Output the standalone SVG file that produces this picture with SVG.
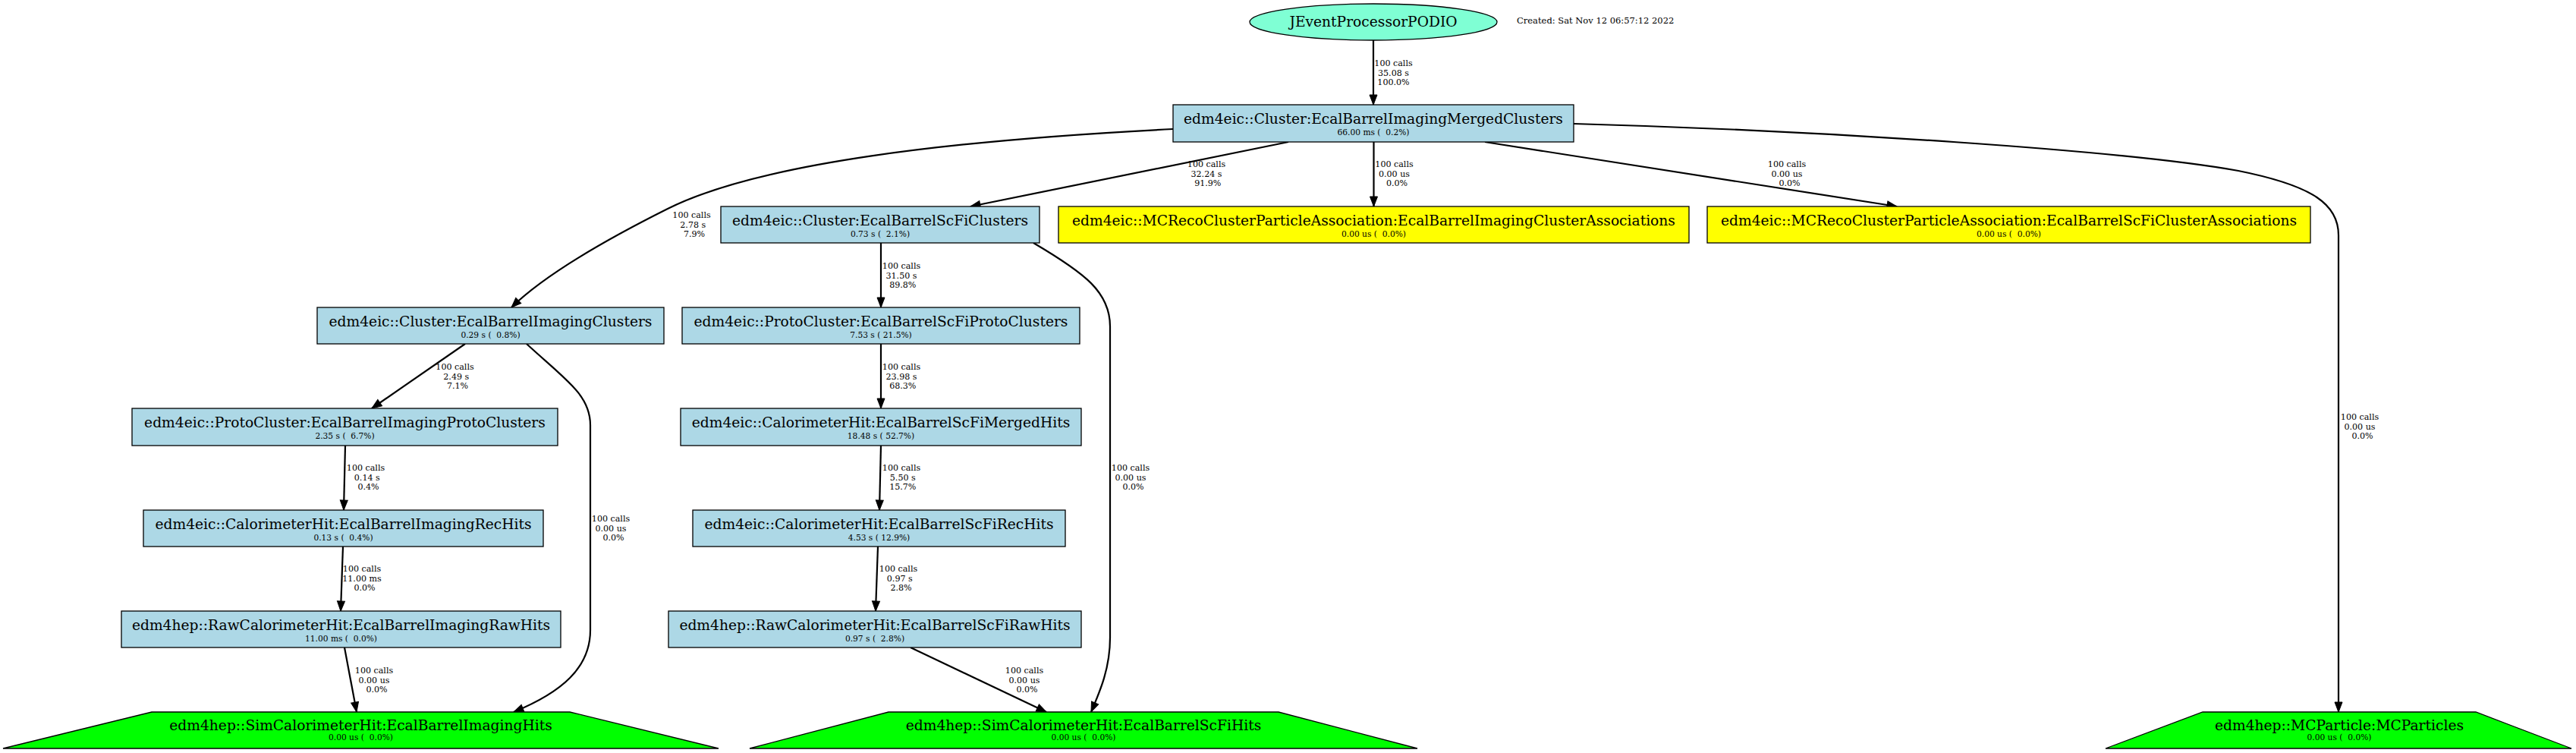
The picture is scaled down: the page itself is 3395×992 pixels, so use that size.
<svg xmlns="http://www.w3.org/2000/svg" width="3395" height="992" viewBox="0 0 3395 992">
<style>
.bg{fill:#ffffff}
.blue{fill:#add8e6;stroke:#000;stroke-width:1.3}
.yel{fill:#ffff00;stroke:#000;stroke-width:1.3}
.grn{fill:#00ff00;stroke:#000;stroke-width:1.3}
.ell{fill:#7fffd4;stroke:#000;stroke-width:1.3}
.t{font-family:"DejaVu Serif","Liberation Serif",serif;font-size:18.67px;text-anchor:middle;fill:#000}
.s{font-family:"DejaVu Serif","Liberation Serif",serif;font-size:10.67px;text-anchor:middle;fill:#000;white-space:pre}
.l{font-family:"DejaVu Serif","Liberation Serif",serif;font-size:11.1px;text-anchor:middle;fill:#000;white-space:pre}
.c{font-family:"DejaVu Serif","Liberation Serif",serif;font-size:11.5px;fill:#000}
.e{fill:none;stroke:#000;stroke-width:2.2;marker-end:url(#ah)}
</style>
<defs>
<marker id="ah" markerUnits="userSpaceOnUse" markerWidth="16" markerHeight="12" refX="13" refY="5" orient="auto" overflow="visible">
<path d="M0,0 L13,5 L0,10 z" fill="#000" stroke="#000" stroke-width="1"/>
</marker>
</defs>
<rect class="bg" x="0" y="0" width="3395" height="992"/>

<g id="connectors">
<path class="e" d="M1810,53 L1810,138"/>
<path class="e" d="M1546,170 C1250,185 1000,215 880,275 C800,315 720,360 674,405"/>
<path class="e" d="M1698,187 L1279,272"/>
<path class="e" d="M1810.5,187 L1810.5,272"/>
<path class="e" d="M1957,187 L2500,272"/>
<path class="e" d="M2074,163 C2400,172 2800,198 2950,225 C3050,245 3082,270 3082,310 L3082,938"/>
<path class="e" d="M1161,320 L1161,405"/>
<path class="e" d="M1362,320 C1430,360 1463,385 1463,430 L1463,840 C1463,880 1450,910 1438,938"/>
<path class="e" d="M1161,453 L1161,538"/>
<path class="e" d="M1161,587 L1159,672"/>
<path class="e" d="M1157,720 L1154,805"/>
<path class="e" d="M1200,853 L1379,938"/>
<path class="e" d="M613,453 L490,538"/>
<path class="e" d="M455,587 L453,672"/>
<path class="e" d="M452,720 L449,805"/>
<path class="e" d="M454,853 L470,938"/>
<path class="e" d="M694,453 C745,500 778,520 778,560 L778,830 C778,880 740,912 677,938"/>

<text class="l" x="1836.5" y="87">100 calls</text>
<text class="l" x="1836.5" y="99.5">35.08 s</text>
<text class="l" x="1836.5" y="112">100.0%</text>

<text class="l" x="911.5" y="287">100 calls</text>
<text class="l" x="911.5" y="299.5"> 2.78 s</text>
<text class="l" x="911.5" y="312">  7.9%</text>

<text class="l" x="1590" y="220">100 calls</text>
<text class="l" x="1590" y="232.5">32.24 s</text>
<text class="l" x="1590" y="245"> 91.9%</text>

<text class="l" x="1837.5" y="220">100 calls</text>
<text class="l" x="1837.5" y="232.5">0.00 us</text>
<text class="l" x="1837.5" y="245">  0.0%</text>

<text class="l" x="2355" y="220">100 calls</text>
<text class="l" x="2355" y="232.5">0.00 us</text>
<text class="l" x="2355" y="245">  0.0%</text>

<text class="l" x="3110" y="553">100 calls</text>
<text class="l" x="3110" y="565.5">0.00 us</text>
<text class="l" x="3110" y="578">  0.0%</text>

<text class="l" x="1188" y="354">100 calls</text>
<text class="l" x="1188" y="366.5">31.50 s</text>
<text class="l" x="1188" y="379"> 89.8%</text>

<text class="l" x="1490" y="620">100 calls</text>
<text class="l" x="1490" y="632.5">0.00 us</text>
<text class="l" x="1490" y="645">  0.0%</text>

<text class="l" x="1188" y="487">100 calls</text>
<text class="l" x="1188" y="499.5">23.98 s</text>
<text class="l" x="1188" y="512"> 68.3%</text>

<text class="l" x="1188" y="620">100 calls</text>
<text class="l" x="1188" y="632.5"> 5.50 s</text>
<text class="l" x="1188" y="645"> 15.7%</text>

<text class="l" x="1184" y="753">100 calls</text>
<text class="l" x="1184" y="765.5"> 0.97 s</text>
<text class="l" x="1184" y="778">  2.8%</text>

<text class="l" x="1350" y="887">100 calls</text>
<text class="l" x="1350" y="899.5">0.00 us</text>
<text class="l" x="1350" y="912">  0.0%</text>

<text class="l" x="599.5" y="487">100 calls</text>
<text class="l" x="599.5" y="499.5"> 2.49 s</text>
<text class="l" x="599.5" y="512">  7.1%</text>

<text class="l" x="482" y="620">100 calls</text>
<text class="l" x="482" y="632.5"> 0.14 s</text>
<text class="l" x="482" y="645">  0.4%</text>

<text class="l" x="477" y="753">100 calls</text>
<text class="l" x="477" y="765.5">11.00 ms</text>
<text class="l" x="477" y="778">  0.0%</text>

<text class="l" x="493" y="887">100 calls</text>
<text class="l" x="493" y="899.5">0.00 us</text>
<text class="l" x="493" y="912">  0.0%</text>

<text class="l" x="805" y="687">100 calls</text>
<text class="l" x="805" y="699.5">0.00 us</text>
<text class="l" x="805" y="712">  0.0%</text>
</g>

<g id="n_jevent">
<ellipse class="ell" cx="1810" cy="29" rx="163" ry="24"/>
<text class="t" x="1810" y="35">JEventProcessorPODIO</text>
</g>
<g id="created">
<text class="c" x="1999" y="31">Created: Sat Nov 12 06:57:12 2022</text>
</g>

<g id="n_merged">
<rect class="blue" x="1546" y="138" width="528" height="49"/>
<text class="t" x="1810" y="163">edm4eic::Cluster:EcalBarrelImagingMergedClusters</text>
<text class="s" x="1810" y="178">66.00 ms (  0.2%)</text>
</g>

<g id="n_scficlusters">
<rect class="blue" x="950" y="272" width="420" height="48"/>
<text class="t" x="1160" y="297">edm4eic::Cluster:EcalBarrelScFiClusters</text>
<text class="s" x="1160" y="312">0.73 s (  2.1%)</text>
</g>

<g id="n_assoc_imaging">
<rect class="yel" x="1395" y="272" width="831" height="48"/>
<text class="t" x="1810.5" y="297">edm4eic::MCRecoClusterParticleAssociation:EcalBarrelImagingClusterAssociations</text>
<text class="s" x="1810.5" y="312">0.00 us (  0.0%)</text>
</g>

<g id="n_assoc_scfi">
<rect class="yel" x="2250" y="272" width="795" height="48"/>
<text class="t" x="2647.5" y="297">edm4eic::MCRecoClusterParticleAssociation:EcalBarrelScFiClusterAssociations</text>
<text class="s" x="2647.5" y="312">0.00 us (  0.0%)</text>
</g>

<g id="n_imagingclusters">
<rect class="blue" x="418" y="405" width="457" height="48"/>
<text class="t" x="646.5" y="430">edm4eic::Cluster:EcalBarrelImagingClusters</text>
<text class="s" x="646.5" y="445">0.29 s (  0.8%)</text>
</g>

<g id="n_scfiproto">
<rect class="blue" x="899" y="405" width="524" height="48"/>
<text class="t" x="1161" y="430">edm4eic::ProtoCluster:EcalBarrelScFiProtoClusters</text>
<text class="s" x="1161" y="445">7.53 s ( 21.5%)</text>
</g>

<g id="n_imagingproto">
<rect class="blue" x="174" y="538" width="561" height="49"/>
<text class="t" x="454.5" y="563">edm4eic::ProtoCluster:EcalBarrelImagingProtoClusters</text>
<text class="s" x="454.5" y="578">2.35 s (  6.7%)</text>
</g>

<g id="n_scfimerged">
<rect class="blue" x="897" y="538" width="528" height="49"/>
<text class="t" x="1161" y="563">edm4eic::CalorimeterHit:EcalBarrelScFiMergedHits</text>
<text class="s" x="1161" y="578">18.48 s ( 52.7%)</text>
</g>

<g id="n_imagingrechits">
<rect class="blue" x="189" y="672" width="527" height="48"/>
<text class="t" x="452.5" y="697">edm4eic::CalorimeterHit:EcalBarrelImagingRecHits</text>
<text class="s" x="452.5" y="712">0.13 s (  0.4%)</text>
</g>

<g id="n_scfirechits">
<rect class="blue" x="913" y="672" width="491" height="48"/>
<text class="t" x="1158.5" y="697">edm4eic::CalorimeterHit:EcalBarrelScFiRecHits</text>
<text class="s" x="1158.5" y="712">4.53 s ( 12.9%)</text>
</g>

<g id="n_imagingraw">
<rect class="blue" x="160" y="805" width="579" height="48"/>
<text class="t" x="449.5" y="830">edm4hep::RawCalorimeterHit:EcalBarrelImagingRawHits</text>
<text class="s" x="449.5" y="845">11.00 ms (  0.0%)</text>
</g>

<g id="n_scfiraw">
<rect class="blue" x="881" y="805" width="544" height="48"/>
<text class="t" x="1153" y="830">edm4hep::RawCalorimeterHit:EcalBarrelScFiRawHits</text>
<text class="s" x="1153" y="845">0.97 s (  2.8%)</text>
</g>

<g id="n_imagingsim">
<polygon class="grn" points="200,938 751,938 947,986 4,986"/>
<text class="t" x="475.5" y="962">edm4hep::SimCalorimeterHit:EcalBarrelImagingHits</text>
<text class="s" x="475.5" y="975">0.00 us (  0.0%)</text>
</g>

<g id="n_scfisim">
<polygon class="grn" points="1171,938 1685,938 1868,986 988,986"/>
<text class="t" x="1428" y="962">edm4hep::SimCalorimeterHit:EcalBarrelScFiHits</text>
<text class="s" x="1428" y="975">0.00 us (  0.0%)</text>
</g>

<g id="n_mcparticles">
<polygon class="grn" points="2903,938 3263,938 3389,986 2775,986"/>
<text class="t" x="3083" y="962">edm4hep::MCParticle:MCParticles</text>
<text class="s" x="3083" y="975">0.00 us (  0.0%)</text>
</g>
</svg>
